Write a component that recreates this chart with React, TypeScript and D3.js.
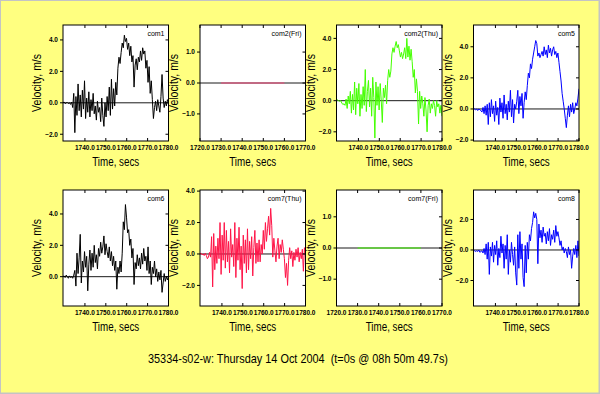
import React from 'react';
import * as d3 from 'd3';

// ---------- data ----------
const T_START = 1729.5;
const T_END = 1780;
const thuTicks = [1740, 1750, 1760, 1770, 1780];
const friTicks = [1720, 1730, 1740, 1750, 1760, 1770];
const friTimes = [1730, 1760];
const com2FriValues = [0, 0];
const com7FriValues = [0, 0];

const com1Values = [
  0.0, 0.05, -0.05, 0.0, 0.02, -0.05, 0.0, -0.1, 0.05,
  -0.3, 0.6, -1.9, 0.4,
  -0.8, 1.2, -0.5, 0.5, -0.9, 0.8, -0.4, 1.4, -1.0, 0.3, -0.6, 0.7, -0.9, 0.2, -0.5, 0.6,
  -0.7, -0.2, -1.1, 0.1, -0.6, -0.3, -1.2, 0.3, -0.8, -1.5, 0.0, -0.9, 0.4, -0.5,
  1.0, -0.8, 1.5, -0.4, 0.9, -0.2, 1.3, 0.5,
  2.2, 2.9, 2.5, 3.2,
  3.8, 3.5, 4.3, 3.9,
  4.1, 3.4, 3.8, 3.0, 3.6, 2.6,
  3.0, 1.0, 2.4, 2.8, 2.1, 2.9,
  2.6, 3.3, 2.7, 3.5, 3.1, 3.3, 2.2, 2.7,
  1.3, 2.3, 0.6, 1.4,
  0.2, -1.0, -0.3, 0.1, -0.5, 0.2, -0.2, -0.6,
  0.4, 1.8, 0.3, -0.3,
  0.1, -0.2, 0.2, 0.0,
];

const com2ThuValues = [
  0.05, 0.05, 0.0, -0.05, 0.0, -0.15, -0.25, -0.2,
  -0.3, 0.1, -0.5, 0.3, -0.2, 0.6, -0.8, 0.4,
  -0.6, 1.2, -0.9, 0.8, -0.2, 1.1, -1.0, 0.4, -0.5, 0.9, -0.3, 2.0, -0.7, 0.6, 1.3, -0.4, 0.8, -1.0, 1.5, 0.2,
  -2.4, 1.2, -0.3, 0.9, -0.6, 1.1, 0.0, -1.4,
  0.8, 0.2, 1.0, -0.2,
  1.3, 2.0, 1.5, 1.9,
  3.0, 3.4, 3.1, 3.5,
  3.8, 3.4, 3.6, 3.2,
  2.8, 3.1, 2.7, 3.0,
  3.4, 2.7, 4.0, 2.8, 3.5, 2.6,
  3.3, 2.5, 1.5, 2.0,
  0.5, 1.4, 0.6, -1.5,
  0.6, -0.5, 0.3, -0.2,
  -1.0, 0.2, -0.6, -2.0, -0.3, 0.1, -0.8, -0.2,
  -0.5, 0.0, -0.3, -1.0, 0.0, -0.4, -0.2, -0.8, -0.3, -1.0,
];

const com5Values = [
  0.0, 0.0, -0.05, 0.0, -0.1, 0.0, -0.05, -0.1, -0.2, 0.1, -0.3, 0.2, -0.4,
  0.3, -1.0, 0.4, -0.5, 0.6, -0.3, 0.2, -0.8, 0.5, -0.4, 0.1, -1.0, 0.7, -0.2, 0.4, -0.6, 0.9, -0.3, 0.3, -0.7, 0.5, -0.2, 1.2, -0.5, 0.6, -0.9, 0.3, 0.0,
  0.5, 1.2, -0.3, 0.8, 0.2, 1.0, -0.6, 0.4, 1.1, 0.6,
  1.5, 2.3, 2.0, 2.9, 2.6, 3.2,
  3.6, 4.0, 4.4, 4.2,
  3.4, 3.6, 3.3, 3.5,
  3.7, 3.4, 4.0, 3.5, 3.8, 3.3, 4.1, 3.6, 3.9, 3.4, 3.8, 4.0, 3.5, 3.7, 3.3, 3.6,
  3.0, 2.4, 1.8, 1.0,
  0.5, 0.0, -0.6, -1.2,
  -0.4, 0.2, -0.5, 0.3, -0.2, 0.4, -0.3, 0.0,
  0.4, 0.2, 0.7, 1.3,
];

const com6Values = [
  0.0, 0.05, -0.05, 0.1, 0.0, -0.1, 0.05, -0.05, 0.0, -0.1, 0.1,
  0.4, -0.6, 1.5, 0.2,
  1.2, 2.7, -0.4, 1.0, 0.3, 1.6, 0.6, 1.3, -0.9, 0.8, 1.7, 0.4,
  1.5, 0.6, 2.0, 0.9, 1.4, 0.5, 1.8,
  1.3, 2.2, 1.5, 1.9, 2.6, 1.4, 2.1, 1.6, 1.2, 1.9,
  1.0, 1.6, 0.7, 1.3, 0.4, 1.0, -0.8, 0.6,
  0.2, 1.0, 0.3, 1.5,
  3.5, 3.0, 4.6, 3.8,
  2.8, 3.0, 2.0, 2.4,
  1.2, 1.8, -0.5, 0.9, 0.5, 1.4,
  0.7, 1.2, 0.5, 1.5, 0.8, 1.8, 1.0, 1.3,
  0.4, 1.9, 0.2, 1.0, -0.5, 0.6,
  0.2, 1.0, 0.0, 0.5, -0.3, 0.3, -0.2, 0.4, -1.0, -0.4, 0.2, -0.3, 0.0, -0.2, 0.0,
];

const com7ThuValues = [
  0.0, 0.05, -0.05, 0.0, -0.1, 0.05, -0.1, -0.3,
  -0.2, 0.1, -0.2,
  1.1, -2.1, 1.3, -1.0, 0.5, -0.6, 1.0, -0.3,
  2.0, -1.3, 1.2, -0.4, 2.0, -0.9, 1.5, -0.5, 0.8, -1.2, 1.6, -0.2, 0.6,
  -0.8, 2.0, -1.5, 1.0, -0.4, 1.7, -1.0, 0.5, -2.2, 1.2, -0.6, 0.9, -1.2,
  1.6, -1.0, 0.8, -0.3, 1.1, -1.4, 0.4, 1.5, -0.6, 0.7,
  -0.5, 0.9, -0.5, 0.6, 0.0,
  1.5, 0.3, 2.0, 0.8, 1.6, 2.4, 1.2,
  2.9, 1.8, -0.2, 1.0, 0.2, -0.5,
  0.5, 1.0, -0.3, 0.6, 0.1, 0.9, 0.3,
  -0.3, -1.5, -0.6, -2.0, -0.4,
  0.4, -0.3, 0.2, -0.8, 0.1, -0.4, 0.3, -0.2, 0.4, -0.5, 0.1,
  -0.3, 0.3, -1.1, 0.4, -0.1,
];

const com8Values = [
  0.0, -0.05, -0.1, -0.05, -0.1, 0.0, -0.15, -0.1, -0.05, -0.2, 0.1, -0.3,
  0.4, -0.6, 0.5, -1.6, 0.2, -0.4, 0.5, -0.8, 0.3, -0.3, 0.6, -1.0, 0.1, -0.5, 0.9, -0.2, 0.4,
  -1.2, 0.3, -0.6, 1.0, -1.6, 0.0, -0.8, 0.5, -0.3, -1.0, 0.2,
  -1.5, -2.3, 1.0, -1.2, 1.2, -0.6, 0.4, -1.8, -2.4,
  0.3, -1.5, 0.5, -0.6, 1.0, 0.6, 1.4,
  1.8, 2.5, 2.1, 2.4, 2.0, -0.9, 1.7,
  0.8, 1.3, 0.5, 1.5, 0.9, 1.1, 0.4,
  1.2, 0.6, 1.4, 0.3, 1.0, 0.7, 1.3, 0.5, 1.6, 0.9, 1.2,
  0.8, 0.3, 0.6, 0.0, 0.2, -0.2, 0.1, -0.1,
  -0.5, 0.2, -0.3, 0.0, -1.2, -0.4, 0.1, -0.3,
  0.3, -0.5, 0.6, -0.4,
];

const titleText = '35334-s02-w: Thursday 14 Oct 2004  (t=0s @ 08h 50m 49.7s)';

// ---------- layout ----------
const W = 600;
const H = 394;
const colX = [63, 200, 336.5, 473.5];
const rowY = [25, 190];
const PW = 105.5;
const PH = 116;
const FONT = '"Liberation Sans", Arial, Helvetica, sans-serif';

const sampleTimes = (values: number[]) =>
  values.map((_, i) => T_START + (i * (T_END - T_START)) / (values.length - 1));

type Panel = {
  name: string;
  times: number[];
  values: number[];
  color: string;
  xDomain: [number, number];
  xTicks: number[];
  yDomain: [number, number];
  yTicks: number[];
};

const panels: Panel[] = [
  { name: 'com1', times: sampleTimes(com1Values), values: com1Values, color: '#000000', xDomain: [T_START, T_END], xTicks: thuTicks, yDomain: [-2.43, 4.95], yTicks: [-2, 0, 2, 4] },
  { name: 'com2(Fri)', times: friTimes, values: com2FriValues, color: '#f5477a', xDomain: [1720, 1770], xTicks: friTicks, yDomain: [-1.875, 1.875], yTicks: [-1, 0, 1] },
  { name: 'com2(Thu)', times: sampleTimes(com2ThuValues), values: com2ThuValues, color: '#44ff00', xDomain: [T_START, T_END], xTicks: thuTicks, yDomain: [-2.59, 4.86], yTicks: [-2, 0, 2, 4] },
  { name: 'com5', times: sampleTimes(com5Values), values: com5Values, color: '#0000ff', xDomain: [T_START, T_END], xTicks: thuTicks, yDomain: [-2.06, 5.4], yTicks: [-2, 0, 2, 4] },
  { name: 'com6', times: sampleTimes(com6Values), values: com6Values, color: '#000000', xDomain: [T_START, T_END], xTicks: thuTicks, yDomain: [-1.87, 5.53], yTicks: [0, 2, 4] },
  { name: 'com7(Thu)', times: sampleTimes(com7ThuValues), values: com7ThuValues, color: '#ff1447', xDomain: [T_START, T_END], xTicks: thuTicks, yDomain: [-3.31, 4.07], yTicks: [-2, 0, 2, 4] },
  { name: 'com7(Fri)', times: friTimes, values: com7FriValues, color: '#44ff00', xDomain: [1720, 1770], xTicks: friTicks, yDomain: [-1.86, 1.86], yTicks: [-1, 0, 1] },
  { name: 'com8', times: sampleTimes(com8Values), values: com8Values, color: '#0000ff', xDomain: [T_START, T_END], xTicks: thuTicks, yDomain: [-3.67, 3.93], yTicks: [-2, 0, 2] },
];

const fmt = d3.format('.1f');

function PanelView({ p, idx }: { p: Panel; idx: number }) {
  const left = colX[idx % 4];
  const top = rowY[Math.floor(idx / 4)];
  const x = d3.scaleLinear().domain(p.xDomain).range([left, left + PW]);
  const y = d3.scaleLinear().domain(p.yDomain).range([top + PH, top]);
  const pts = p.times.map((t, i) => [t, p.values[i]] as [number, number]);
  const line = d3
    .line<[number, number]>()
    .x((d) => x(d[0]))
    .y((d) => y(d[1]));
  const clipId = `clip-${idx}`;
  const tk = 3;
  return (
    <g>
      <defs>
        <clipPath id={clipId}>
          <rect x={left} y={top} width={PW} height={PH} />
        </clipPath>
      </defs>
      <rect x={left} y={top} width={PW} height={PH} fill="#ffffff" />
      <g clipPath={`url(#${clipId})`}>
        <line x1={left} x2={left + PW} y1={y(0)} y2={y(0)} stroke="#1a1a1a" strokeWidth={1} />
        <path d={line(pts) || ''} fill="none" stroke={p.color} strokeWidth={1} strokeLinejoin="round" />
      </g>
      <rect x={left} y={top} width={PW} height={PH} fill="none" stroke="#000" strokeWidth={1} />
      {p.xTicks.map((t) => (
        <g key={`x${t}`}>
          <line x1={x(t)} x2={x(t)} y1={top + PH} y2={top + PH - tk} stroke="#000" />
          <line x1={x(t)} x2={x(t)} y1={top} y2={top + tk} stroke="#000" />
          <text
            x={x(t)}
            y={top + PH + 8.5}
            textAnchor="middle"
            fontFamily={FONT}
            fontSize={6.5}
            fontWeight="bold"
            fill="#000"
          >
            {fmt(t)}
          </text>
        </g>
      ))}
      {p.yTicks.map((v) => (
        <g key={`y${v}`}>
          <line x1={left - tk} x2={left} y1={y(v)} y2={y(v)} stroke="#000" />
          <line x1={left + PW - tk} x2={left + PW} y1={y(v)} y2={y(v)} stroke="#000" />
          <text
            x={left - 5}
            y={y(v) + 2.3}
            textAnchor="end"
            fontFamily={FONT}
            fontSize={6.5}
            fontWeight="bold"
            fill="#000"
          >
            {fmt(v)}
          </text>
        </g>
      ))}
      <text
        x={left + PW - 4}
        y={top + 11}
        textAnchor="end"
        fontFamily={FONT}
        fontSize={7}
        fill="#000"
      >
        {p.name}
      </text>
      <text
        x={left + PW / 2}
        y={top + PH + 24.5}
        textAnchor="middle"
        fontFamily={FONT}
        fontSize={12}
        textLength={47}
        lengthAdjust="spacingAndGlyphs"
        fill="#000"
      >
        Time, secs
      </text>
      <text
        transform={`translate(${left - 22},${top + PH / 2}) rotate(-90)`}
        textAnchor="middle"
        fontFamily={FONT}
        fontSize={12}
        textLength={58}
        lengthAdjust="spacingAndGlyphs"
        fill="#000"
      >
        Velocity, m/s
      </text>
    </g>
  );
}

export default function App() {
  return (
    <svg
      width={W}
      height={H}
      style={{ position: 'absolute', left: 0, top: 0, display: 'block' }}
    >
      <rect x={0} y={0} width={W} height={H} fill="#ffff80" />
      <rect x={0.5} y={0.5} width={W - 1.5} height={H - 1.5} fill="none" stroke="#c4c4c4" strokeWidth={1} />
      <line x1={W - 0.5} x2={W - 0.5} y1={0} y2={H} stroke="#c4c4c4" />
      <line x1={0} x2={W} y1={H - 0.5} y2={H - 0.5} stroke="#c4c4c4" />
      {panels.map((p, i) => (
        <PanelView key={p.name} p={p} idx={i} />
      ))}
      <text
        x={298}
        y={363}
        textAnchor="middle"
        fontFamily={FONT}
        fontSize={13}
        textLength={300}
        lengthAdjust="spacingAndGlyphs"
        fill="#000"
        style={{ whiteSpace: 'pre' }}
      >
        {titleText}
      </text>
    </svg>
  );
}
